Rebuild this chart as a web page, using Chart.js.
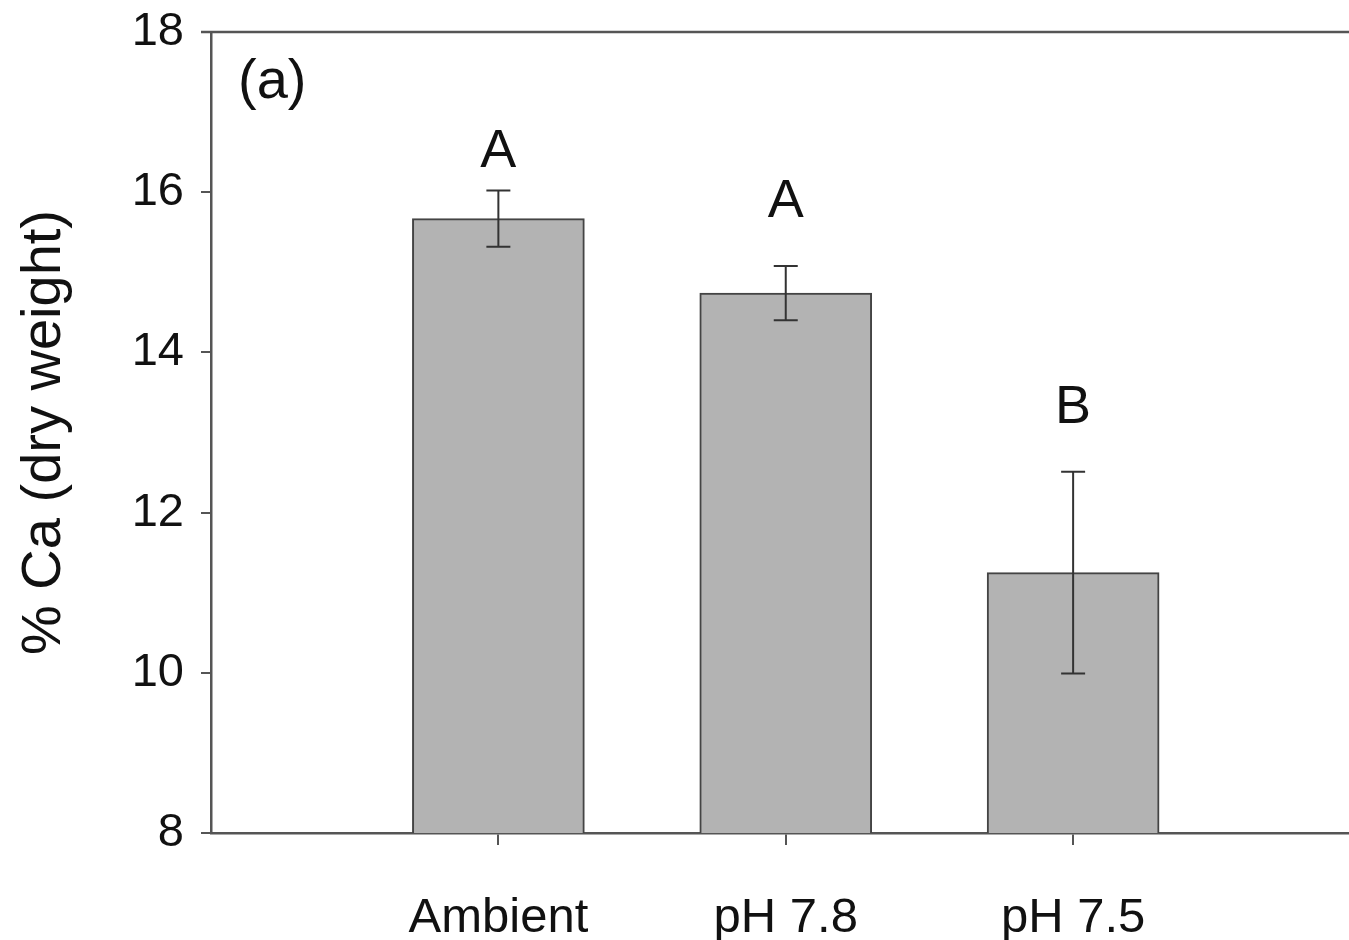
<!DOCTYPE html>
<html lang="en">
<head>
<meta charset="UTF-8" />
<title>% Ca (dry weight)</title>
<script src="https://cdn.jsdelivr.net/npm/chart.js"></script>
<style>
  html, body { margin: 0; padding: 0; background: #fff; }
  #wrap { width: 1349px; height: 940px; }
</style>
</head>
<body>
<div id="wrap"><canvas id="caChart"></canvas></div>
<script>
const treatments = ['Ambient', 'pH 7.8', 'pH 7.5'];
const treatmentPos = [1, 2, 3];
const caMean = [15.67, 14.74, 11.25];
const caErr = [0.35, 0.34, 1.26];
const groupLetters = ['A', 'A', 'B'];
const letterAt = [16.31, 15.69, 13.12]; // y value of letter baseline
const yTicks = [8, 10, 12, 14, 16, 18];

const FONT = '"Liberation Sans", Arial, sans-serif';

// error bars, significance letters, panel tag and top frame line
const extras = {
  id: 'extras',
  afterDatasetsDraw(chart) {
    const { ctx, chartArea, scales: { x, y } } = chart;
    ctx.save();
    ctx.strokeStyle = '#333';
    ctx.lineWidth = 2;
    treatmentPos.forEach((p, i) => {
      const px = x.getPixelForValue(p);
      const hi = y.getPixelForValue(caMean[i] + caErr[i]);
      const lo = y.getPixelForValue(caMean[i] - caErr[i]);
      ctx.beginPath();
      ctx.moveTo(px, hi); ctx.lineTo(px, lo);
      ctx.moveTo(px - 12, hi); ctx.lineTo(px + 12, hi);
      ctx.moveTo(px - 12, lo); ctx.lineTo(px + 12, lo);
      ctx.stroke();
    });

    ctx.fillStyle = '#111';
    ctx.textAlign = 'center';
    ctx.textBaseline = 'alphabetic';
    ctx.font = '54px ' + FONT;
    groupLetters.forEach((t, i) => {
      ctx.fillText(t, x.getPixelForValue(treatmentPos[i]), y.getPixelForValue(letterAt[i]));
    });

    ctx.textAlign = 'left';
    ctx.font = '56px ' + FONT;
    ctx.fillText('(a)', chartArea.left + 27, chartArea.top + 66);

    ctx.strokeStyle = '#555';
    ctx.lineWidth = 2.5;
    ctx.beginPath();
    ctx.moveTo(chartArea.left - 10, chartArea.top);
    ctx.lineTo(chartArea.right, chartArea.top);
    ctx.stroke();
    ctx.restore();
  }
};

const ctx = document.getElementById('caChart').getContext('2d');
new Chart(ctx, {
  type: 'bar',
  data: {
    datasets: [{
      label: '% Ca',
      data: treatmentPos.map((p, i) => ({ x: p, y: caMean[i] })),
      backgroundColor: '#b3b3b3',
      borderColor: '#444',
      borderWidth: 2,
      borderSkipped: 'start',
      barThickness: 172
    }]
  },
  options: {
    responsive: true,
    maintainAspectRatio: false,
    animation: false,
    layout: { padding: { top: 32, right: 0, left: 0, bottom: 0 } },
    plugins: {
      legend: { display: false },
      tooltip: { enabled: false }
    },
    scales: {
      x: {
        type: 'linear',
        min: 0,
        max: 3.96,
        offset: false,
        afterBuildTicks: (s) => { s.ticks = treatmentPos.map(v => ({ value: v })); },
        afterFit: (s) => { s.height = 107; s.paddingLeft = 0; s.paddingRight = 0; },
        ticks: {
          callback: (v) => treatments[treatmentPos.indexOf(v)] || '',
          color: '#111',
          font: { family: FONT, size: 49 },
          padding: 44,
          maxRotation: 0,
          autoSkip: false
        },
        grid: { offset: false, drawOnChartArea: false, color: '#555', lineWidth: 2, tickLength: 12 },
        border: { display: true, color: '#555', width: 2.5 }
      },
      y: {
        min: 8,
        max: 18,
        afterBuildTicks: (s) => { s.ticks = yTicks.map(v => ({ value: v })); },
        afterFit: (s) => { s.width = 211; s.paddingTop = 0; s.paddingBottom = 0; },
        ticks: {
          color: '#111',
          font: { family: FONT, size: 47 },
          padding: 17
        },
        grid: { drawOnChartArea: false, color: '#555', lineWidth: 2, tickLength: 10 },
        border: { display: true, color: '#555', width: 2.5 },
        title: {
          display: true,
          text: '% Ca (dry weight)',
          color: '#111',
          font: { family: FONT, size: 56 },
          padding: { top: 11, bottom: 0 }
        }
      }
    }
  },
  plugins: [extras]
});
</script>
</body>
</html>
